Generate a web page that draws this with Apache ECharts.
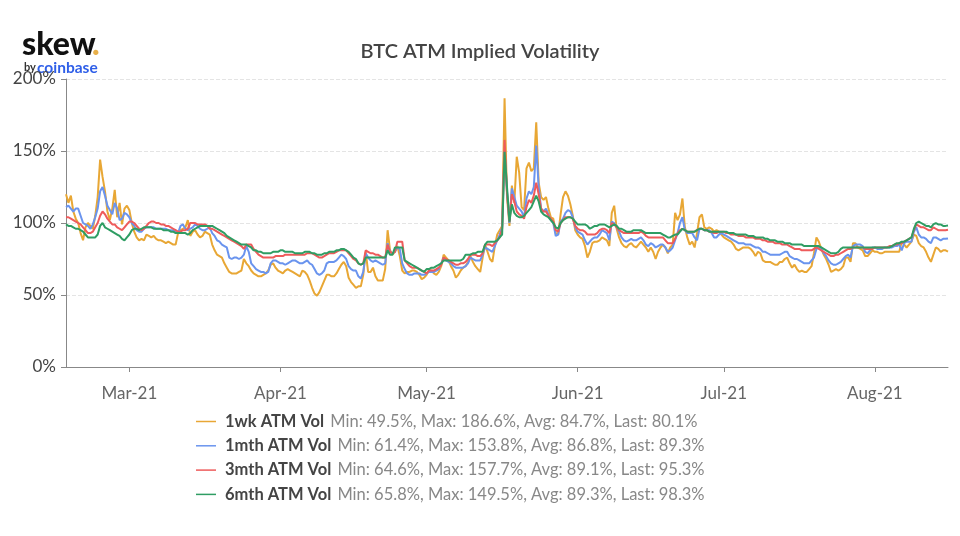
<!DOCTYPE html>
<html>
<head>
<meta charset="utf-8">
<title>BTC ATM Implied Volatility</title>
<script src="https://cdn.jsdelivr.net/npm/echarts@6/dist/echarts.min.js"></script>
<style>
  html, body { margin: 0; padding: 0; background: #fff; }
  #chart { width: 960px; height: 536px; }
</style>
</head>
<body>
<div id="chart"></div>
<script>
// samples every 12 hours starting at 16 Feb 2021, one row per 10 days
const startTime = Date.UTC(2021, 1, 16);
const stepMs = 12 * 3600 * 1000;

const vol1wk = [
  120,114,119,108,103,100,93,88,97,100,98,96,105,118,144,132,122,108,102,110,
  123,104,114,99,110,112,109,100,94,90,88,89,88,92,91,90,91,89,88,88,
  87,86,87,86,85,85,93,95,96,97,102,91,94,95,92,90,91,94,93,92,
  85,81,78,77,76,72,69,66,65,65,65,66,67,75,72,70,67,65,64,63,
  63,64,65,67,71,72,69,67,66,65,67,68,67,66,65,64,63,67,66,64,
  60,55,51,49.5,52,56,60,64,64,63,63,65,68,71,73,70,62,59,57,55,
  56,56,64,80,66,66,69,63,60,60,60,68,95,81,78,80,84,77,67,65,
  66,66,67,67,66,64,61,62,64,67,67,65,64,66,70,78,76,74,70,67,
  62,64,67,69,70,73,77,73,70,68,66,76,85,80,75,73,84,92,95,98,
  186.6,118,98,126,114,146,135,111,109,138,142,136,138,170,128,118,116,118,110,104,
  103,93,92,106,118,122,119,113,105,95,92,90,89,84,76,80,86,87,87,88,
  90,89,88,84,107,112,96,90,86,84,83,85,86,84,83,85,87,85,83,80,
  83,80,75,80,83,85,83,79,83,85,107,102,106,117,97,90,85,87,83,93,
  104,106,97,96,97,96,94,95,94,92,90,89,88,87,85,82,81,82,83,83,
  83,82,80,77,80,79,74,73,73,73,72,71,71,73,73,75,76,72,69,71,
  68,66,67,66,66,68,70,79,90,87,82,78,75,71,66,67,68,67,68,70,
  76,76,73,86,86,83,82,81,77,77,79,81,80,80,79,79,80,80,80,80,
  80,80,80,87,85,83,85,87,92,91,86,84,83,80,76,73,78,83,82,80,
  81,81,80.1
];

const vol1mth = [
  111,112,110,108,110,110,105,100,99,98,96,99,104,110,122,125,119,112,109,106,
  114,110,102,103,107,106,104,100,98,95,94,94,96,97,97,97,97,96,96,96,
  96,96,95,95,95,94,93,98,99,96,95,96,97,99,98,96,95,95,96,97,
  93,91,88,87,85,84,83,76,75,76,76,75,76,78,84,80,72,70,68,67,
  66,66,65,66,72,74,74,73,72,72,71,72,73,74,74,73,72,72,73,74,
  72,71,68,65,64,65,67,72,73,73,73,74,76,78,77,75,70,68,67,67,
  63,61.4,66,79,76,74,73,74,73,72,71,72,86,80,79,80,83,82,72,68,
  65,64,64,65,65,65,64,64,65,66,66,66,67,68,72,76,74,73,72,70,
  69,69,69,69,70,72,76,75,74,74,74,78,83,82,81,80,84,88,92,97,
  150,122,100,124,118,112,110,108,104,117,122,120,125,153.8,125,110,108,110,106,102,
  100,91,92,101,103,107,109,108,104,97,94,93,92,88,85,87,89,90,90,92,
  95,94,93,88,101,100,97,94,90,88,87,88,89,88,88,89,90,88,85,84,
  86,85,83,84,85,85,83,80,81,83,88,93,100,104,95,93,93,93,90,88,
  96,96,95,95,95,93,90,90,92,93,92,91,90,89,88,87,86,86,86,85,
  85,85,84,83,83,82,80,80,79,78,78,78,78,78,79,80,80,77,76,75,
  75,74,73,72,72,72,74,76,82,83,82,79,77,74,72,71,71,72,73,75,
  77,78,76,84,85,85,85,84,80,79,81,83,83,82,82,82,83,83,83,83,
  84,84,85,81,86,87,87,87,94,97,92,90,90,89,87,86,90,90,89,88,
  89,89,89.3
];

const vol3mth = [
  104,104,103,102,101,100,99,97,95,93,93,94,97,100,105,108,106,103,101,99,
  99,97,96,95,97,99,101,101,100,98,96,95,96,98,100,101,101,100,100,99,
  99,98,98,97,96,95,94,94,95,95,96,100,100,100,99,99,99,99,98,96,
  96,95,94,93,92,91,90,89,88,87,86,85,84,82,85,85,85,82,80,78,
  77,76,76,76,76,76,77,77,77,77,78,78,78,78,78,78,78,78,78,79,
  79,79,78,77,76,76,77,78,79,79,79,80,81,81,81,81,79,77,75,74,
  72,71,72,81,80,79,79,78,78,77,76,76,85,80,79,80,87,87,87,74,
  72,70,69,69,69,68,67,66,65,67,67,67,68,69,71,76,75,74,73,72,
  71,71,72,72,73,75,78,78,78,77,77,79,85,85,85,84,86,88,90,96,
  157.7,121,101,120,115,108,106,105,103,111,116,114,119,128,120,110,108,108,105,103,
  101,95,94,100,102,104,104,104,103,98,96,95,95,94,92,92,92,92,93,95,
  96,96,95,93,100,99,97,95,94,93,93,93,93,93,93,93,94,93,91,90,
  90,90,90,90,90,90,88,86,86,86,89,93,95,96,95,94,94,94,94,95,
  96,96,95,95,94,94,93,93,94,94,94,93,93,92,92,92,91,91,91,90,
  90,90,90,89,89,89,88,88,87,87,87,86,86,86,85,85,85,84,83,82,
  82,82,81,81,81,81,81,82,83,82,81,80,79,78,77,77,78,78,79,80,
  81,82,82,83,83,83,83,83,82,82,82,82,83,83,83,83,83,83,84,84,
  85,85,86,86,87,88,89,90,95,99,98,97,97,96,95,95,97,96,95,95,
  95,95,95.3
];

const vol6mth = [
  99,98,98,97,96,96,95,94,92,90,90,90,90,92,98,100,97,96,95,94,
  93,92,91,89,88,90,92,95,96,96,95,96,97,97,97,97,96,96,96,96,
  95,95,95,94,94,93,93,93,93,93,92,93,95,96,97,98,98,98,98,98,
  98,97,96,95,94,93,91,90,89,88,87,86,85,85,85,84,83,81,81,80,
  80,79,79,79,79,80,80,80,81,81,80,80,80,80,79,79,79,79,80,80,
  80,79,79,78,78,78,79,79,80,80,80,81,81,82,82,81,80,78,76,75,
  72,71,72,76,76,76,76,76,76,76,76,76,81,78,78,83,83,83,83,74,
  73,72,71,70,69,68,67,66,68,68,69,69,70,71,72,74,74,74,74,74,
  74,74,74,75,78,78,78,79,79,80,80,80,85,87,87,87,87,88,90,92,
  149.5,125,101,113,107,105,104,104,105,107,109,111,115,119,115,108,106,105,104,102,
  100,97,96,100,102,103,104,104,103,101,99,99,99,99,98,96,97,98,98,99,
  99,99,98,97,98,99,98,96,96,95,94,94,94,95,95,95,95,94,93,93,
  93,93,93,93,93,92,91,90,90,91,92,92,94,96,95,94,94,94,94,95,
  96,96,95,95,94,94,94,94,94,94,94,94,93,93,93,92,92,92,92,92,
  91,91,91,90,90,90,90,89,89,88,88,88,87,87,87,86,86,86,85,85,
  85,85,85,84,84,84,84,84,84,84,83,82,81,80,79,79,79,80,82,83,
  83,83,83,83,83,83,83,83,83,83,83,83,83,83,83,83,83,83,83,84,
  85,86,86,87,87,88,89,90,96,100,101,100,99,98,98,97,99,100,99,99,
  98,98,98.3
];

const seriesNames = ['1wk ATM Vol', '1mth ATM Vol', '3mth ATM Vol', '6mth ATM Vol'];
const seriesColors = ['#e8a735', '#6a94ee', '#ee5b5b', '#2f9d63'];
const statMin = [49.5, 61.4, 64.6, 65.8];
const statMax = [186.6, 153.8, 157.7, 149.5];
const statAvg = [84.7, 86.8, 89.1, 89.3];
const statLast = [80.1, 89.3, 95.3, 98.3];

const monthTicks = [Date.UTC(2021, 2, 1), Date.UTC(2021, 3, 1), Date.UTC(2021, 4, 1),
  Date.UTC(2021, 5, 1), Date.UTC(2021, 6, 1), Date.UTC(2021, 7, 1)];
const monthLabels = ['Mar-21', 'Apr-21', 'May-21', 'Jun-21', 'Jul-21', 'Aug-21'];

const allVols = [vol1wk, vol1mth, vol3mth, vol6mth];
const FONT = 'Lato, "Open Sans", sans-serif';

const myChart = echarts.init(document.getElementById('chart'));

myChart.setOption({
  backgroundColor: '#ffffff',
  animation: false,
  textStyle: { fontFamily: FONT },
  title: {
    text: 'BTC ATM Implied Volatility',
    left: 'center',
    top: 37,
    textStyle: { fontFamily: FONT, fontSize: 20, fontWeight: 600, color: '#444' }
  },
  grid: { left: 66, right: 12, top: 79, bottom: 169 },
  xAxis: {
    // value axis over timestamps: the time axis refuses customValues labels
    type: 'value',
    min: startTime,
    max: startTime + 362 * stepMs,
    axisLine: { lineStyle: { color: '#888', width: 1 } },
    axisTick: { length: 5, lineStyle: { color: '#888' }, customValues: monthTicks },
    splitLine: { show: false },
    axisLabel: {
      fontSize: 17,
      color: '#666',
      margin: 18,
      customValues: monthTicks,
      formatter: value => monthLabels[monthTicks.indexOf(value)] || ''
    }
  },
  yAxis: {
    type: 'value',
    min: 0,
    max: 200,
    interval: 50,
    axisLine: { show: true, lineStyle: { color: '#888', width: 1 } },
    axisTick: { show: true, length: 5, lineStyle: { color: '#888' } },
    splitLine: { lineStyle: { color: '#e4e4e4', type: 'dashed' } },
    axisLabel: { fontSize: 17, color: '#444', margin: 10, formatter: '{value}%' }
  },
  legend: {
    orient: 'vertical',
    left: 191,
    top: 408,
    itemWidth: 20,
    itemHeight: 1.5,
    itemGap: 7.3,
    icon: 'rect',
    selectedMode: false,
    data: seriesNames,
    formatter: name => {
      const i = seriesNames.indexOf(name);
      return `{name|${name}}  {stat|Min: ${statMin[i]}%, Max: ${statMax[i]}%, Avg: ${statAvg[i]}%, Last: ${statLast[i]}%}`;
    },
    textStyle: {
      rich: {
        name: { fontFamily: FONT, fontSize: 16.5, fontWeight: 'bold', color: '#444', lineHeight: 18, padding: [0, 0, 0, 4] },
        stat: { fontFamily: FONT, fontSize: 16.5, color: '#888', lineHeight: 18 }
      }
    }
  },
  series: seriesNames.map((name, s) => ({
    name,
    type: 'line',
    showSymbol: false,
    symbol: 'none',
    itemStyle: { color: seriesColors[s] },
    lineStyle: { color: seriesColors[s], width: 2 },
    data: allVols[s].map((v, i) => [startTime + i * stepMs, v])
  })),
  // skew logo, top left
  graphic: [
    { type: 'text', left: 22, top: 29, style: { text: 'skew', fontFamily: FONT, fontSize: 32, fontWeight: 900, fill: '#111' } },
    { type: 'text', left: 92, top: 29, style: { text: '.', fontFamily: FONT, fontSize: 32, fontWeight: 900, fill: '#e8b04a' } },
    { type: 'text', left: 24, top: 62, style: { text: 'by', fontFamily: FONT, fontSize: 11, fontWeight: 700, fill: '#333' } },
    { type: 'text', left: 37, top: 60, style: { text: 'coinbase', fontFamily: FONT, fontSize: 15.5, fontWeight: 700, fill: '#2f5fe8' } }
  ]
});

window.addEventListener('resize', () => myChart.resize());
</script>
</body>
</html>
